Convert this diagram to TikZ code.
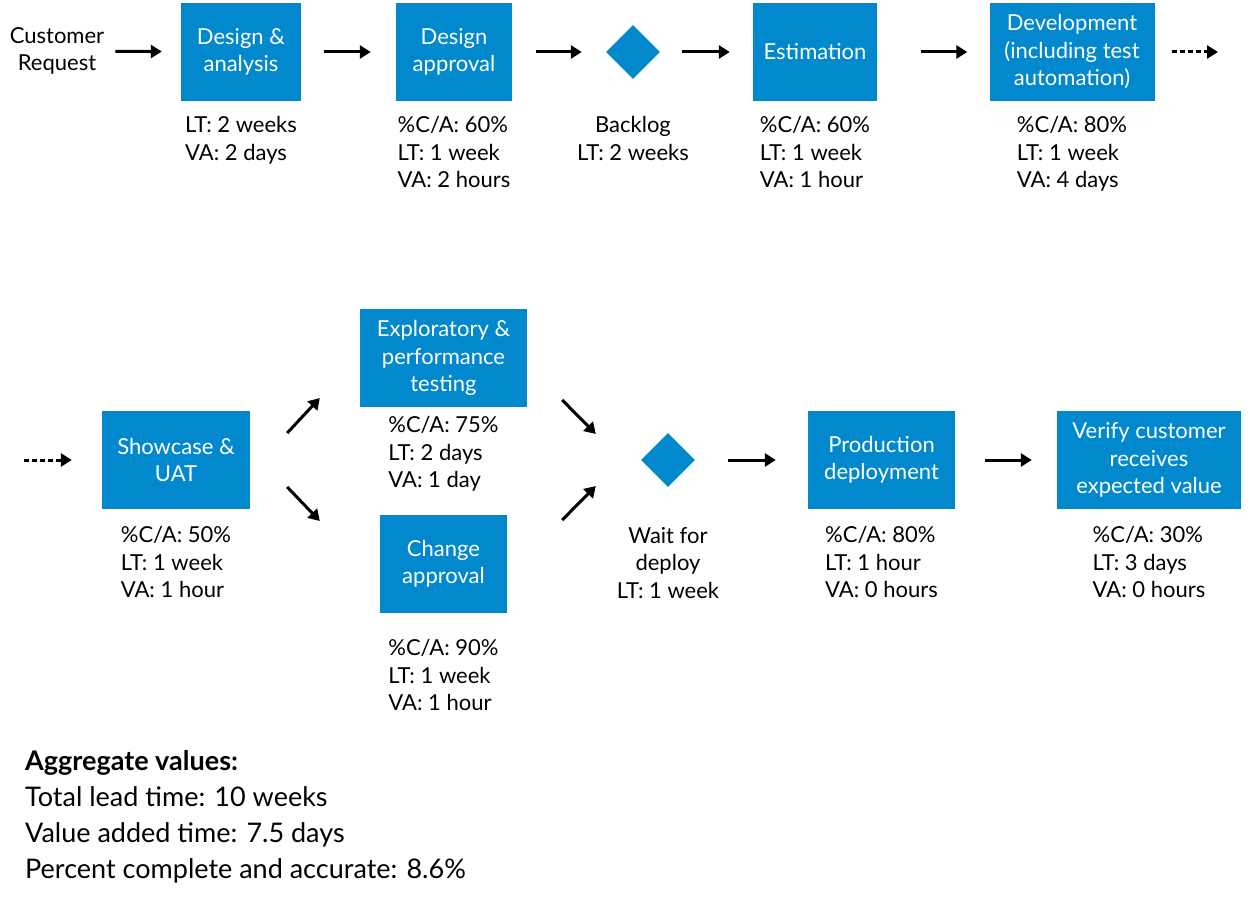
\documentclass[tikz,border=0pt]{standalone}
\usepackage{fontspec}
\setmainfont{Lato}
\usetikzlibrary{arrows.meta,positioning,shapes.geometric}
\definecolor{vsblue}{RGB}{2,136,204}

\begin{document}
\begin{tikzpicture}[x=1pt, y=-1pt,
  proc/.style={fill=vsblue, text=white, minimum height=98pt, align=center, inner sep=0pt, font=\fontsize{22}{27.5}\selectfont},
  wait/.style={diamond, fill=vsblue, minimum width=54pt, minimum height=54pt, inner sep=0pt},
  note/.style={align=left, inner sep=0pt, font=\fontsize{22}{27.5}\selectfont},
  flow/.style={-{Triangle[length=11pt,width=13pt]}, line width=3pt},
  link/.style={flow, dash pattern=on 5pt off 3pt}]
\useasboundingbox (0,0) rectangle (1249,896);
% top row
\node [note, align=center] (cust) at (57,51) {Customer\\Request};
\node [proc, minimum width=120pt] (dsgn) at (241,52) {Design \&\\analysis};
\node [proc, minimum width=116pt] (appr) at (454,52) {Design\\approval};
\node [wait] (blog) at (633,52) {};
\node [proc, minimum width=124pt] (est) at (815,52) {Estimation};
\node [proc, minimum width=165pt] (dev) at (1072,52) {Development\\(including test\\automation)};
\coordinate (more) at (1218,52);
\node [note, below=15pt of dsgn] {LT: 2 weeks\\VA: 2 days};
\node [note, below=15pt of appr] {\%C/A: 60\%\\LT: 1 week\\VA: 2 hours};
\node [note, align=center, below=37pt of blog] {Backlog\\LT: 2 weeks};
\node [note, below=15pt of est] {\%C/A: 60\%\\LT: 1 week\\VA: 1 hour};
\node [note, below=15pt of dev] {\%C/A: 80\%\\LT: 1 week\\VA: 4 days};
\draw [flow, shorten <=11pt, shorten >=19pt] (cust) -- (dsgn);
\draw [flow, shorten <=23pt, shorten >=25pt] (dsgn) -- (appr);
\draw [flow, shorten <=24pt, shorten >=24pt] (appr) -- (blog);
\draw [flow, shorten <=22pt, shorten >=23pt] (blog) -- (est);
\draw [flow, shorten <=44pt, shorten >=22pt] (est) -- (dev);
\draw [link, shorten <=17pt] (dev) -- (more);
% bottom row
\coordinate (back) at (24,460);
\node [proc, minimum width=148pt] (show) at (176,460) {Showcase \&\\UAT};
\node [proc, minimum width=167pt] (expl) at (443.5,358) {Exploratory \&\\performance\\testing};
\node [proc, minimum width=127pt] (chg) at (443.5,564) {Change\\approval};
\node [wait] (dply) at (668,460) {};
\node [proc, minimum width=147pt] (prod) at (881.5,460) {Production\\deployment};
\node [proc, minimum width=184pt] (ver) at (1149,460) {Verify customer\\receives\\expected value};
\node [note, below=17pt of show] {\%C/A: 50\%\\LT: 1 week\\VA: 1 hour};
\node [note, below=9pt of expl] {\%C/A: 75\%\\LT: 2 days\\VA: 1 day};
\node [note, below=26pt of chg] {\%C/A: 90\%\\LT: 1 week\\VA: 1 hour};
\node [note, align=center, below=40pt of dply] {Wait for\\deploy\\LT: 1 week};
\node [note, below=17pt of prod] {\%C/A: 80\%\\LT: 1 hour\\VA: 0 hours};
\node [note, below=17pt of ver] {\%C/A: 30\%\\LT: 3 days\\VA: 0 hours};
\draw [link, shorten >=30pt] (back) -- (show);
\draw [flow] ([xshift=37pt,yshift=27pt]show.east) -- ([xshift=-40pt,yshift=-40pt]expl.west);
\draw [flow] ([xshift=37pt,yshift=-27pt]show.east) -- ([xshift=-60pt,yshift=43pt]chg.west);
\draw [flow] ([xshift=35pt,yshift=-42pt]expl.east) -- ([xshift=-45pt,yshift=26pt]dply.west);
\draw [flow] ([xshift=55pt,yshift=44pt]chg.east) -- ([xshift=-45pt,yshift=-26pt]dply.west);
\draw [flow, shorten <=33pt, shorten >=32pt] (dply) -- (prod);
\draw [flow, shorten <=30pt, shorten >=25pt] (prod) -- (ver);
% totals
\node [note, anchor=north west, font=\fontsize{27}{36}\selectfont] (aggr) at (25,750)
  {\textbf{Aggregate values:}\\Total lead time: 10 weeks\\Value added time: 7.5 days\\Percent complete and accurate: 8.6\%};
\end{tikzpicture}
\end{document}
